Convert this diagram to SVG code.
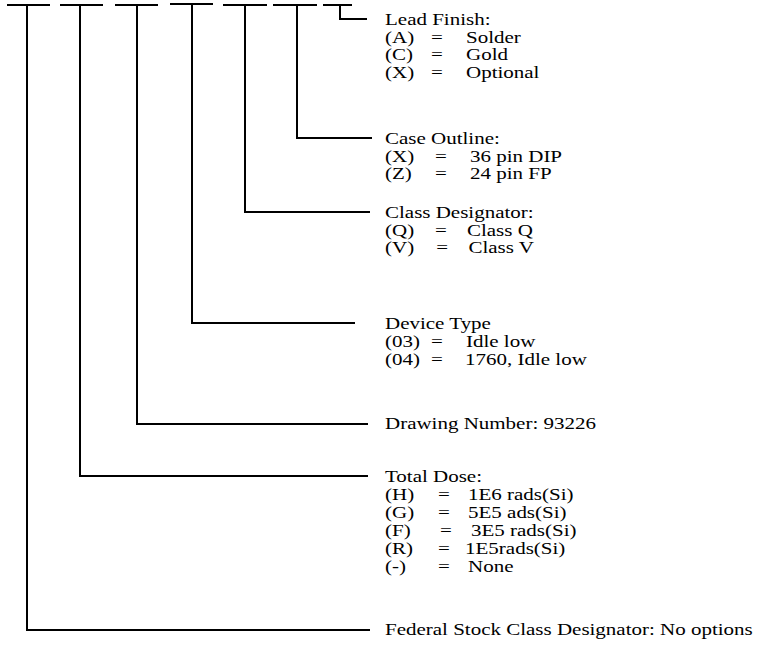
<svg xmlns="http://www.w3.org/2000/svg" width="760" height="646" viewBox="0 0 760 646">
<style>
.ln{fill:none;stroke:#000;stroke-width:2}
text{font-family:"Liberation Serif","Times New Roman",serif;font-size:17.5px;fill:#000}
</style>
<rect width="760" height="646" fill="#fff"/>
<g id="connectors">
<path class="ln" d="M7,5H50M27,5V630H370"/>
<path class="ln" d="M60,5H103M80,5V476H368"/>
<path class="ln" d="M115,5H158M137,5V424H368"/>
<path class="ln" d="M170,4H213M192,4V323H355"/>
<path class="ln" d="M223,5H267M245,5V212H370"/>
<path class="ln" d="M273,5H317M297,5V138H372"/>
<path class="ln" d="M323,5H352M340,5V19H367"/>
</g>
<g id="lead-finish" transform="translate(385,0) scale(1.2,1)">
<text x="0" y="25">Lead Finish:</text>
<text x="0" y="43">(A)</text><text x="38.3" y="43">=</text><text x="67.5" y="43">Solder</text>
<text x="0" y="60">(C)</text><text x="38.3" y="60">=</text><text x="67.5" y="60">Gold</text>
<text x="0" y="78">(X)</text><text x="38.3" y="78">=</text><text x="67.5" y="78">Optional</text>
</g>
<g id="case-outline" transform="translate(385,0) scale(1.2,1)">
<text x="0" y="144">Case Outline:</text>
<text x="0" y="162">(X)</text><text x="41.7" y="162">=</text><text x="70.8" y="162">36 pin DIP</text>
<text x="0" y="179">(Z)</text><text x="41.7" y="179">=</text><text x="70.8" y="179">24 pin FP</text>
</g>
<g id="class-designator" transform="translate(385,0) scale(1.2,1)">
<text x="0" y="218">Class Designator:</text>
<text x="0" y="236">(Q)</text><text x="41.7" y="236">=</text><text x="68.3" y="236">Class Q</text>
<text x="0" y="253">(V)</text><text x="42.8" y="253">=</text><text x="69.5" y="253">Class V</text>
</g>
<g id="device-type" transform="translate(385,0) scale(1.2,1)">
<text x="0" y="329">Device Type</text>
<text x="0" y="347">(03)</text><text x="38.3" y="347">=</text><text x="67.5" y="347">Idle low</text>
<text x="0" y="365">(04)</text><text x="38.3" y="365">=</text><text x="66.7" y="365">1760, Idle low</text>
</g>
<g id="drawing-number" transform="translate(385,0) scale(1.2,1)">
<text x="0" y="429">Drawing Number: 93226</text>
</g>
<g id="total-dose" transform="translate(385,0) scale(1.2,1)">
<text x="0" y="482">Total Dose:</text>
<text x="0" y="500">(H)</text><text x="44.2" y="500">=</text><text x="69.2" y="500">1E6 rads(Si)</text>
<text x="0" y="518">(G)</text><text x="44.2" y="518">=</text><text x="69.2" y="518">5E5 ads(Si)</text>
<text x="0" y="536">(F)</text><text x="45.8" y="536">=</text><text x="71.7" y="536">3E5 rads(Si)</text>
<text x="0" y="554">(R)</text><text x="44.2" y="554">=</text><text x="66.7" y="554">1E5rads(Si)</text>
<text x="0" y="572">(-)</text><text x="44.2" y="572">=</text><text x="69.2" y="572">None</text>
</g>
<g id="federal-stock" transform="translate(385,0) scale(1.2,1)">
<text x="0" y="635">Federal Stock Class Designator: No options</text>
</g>
</svg>
